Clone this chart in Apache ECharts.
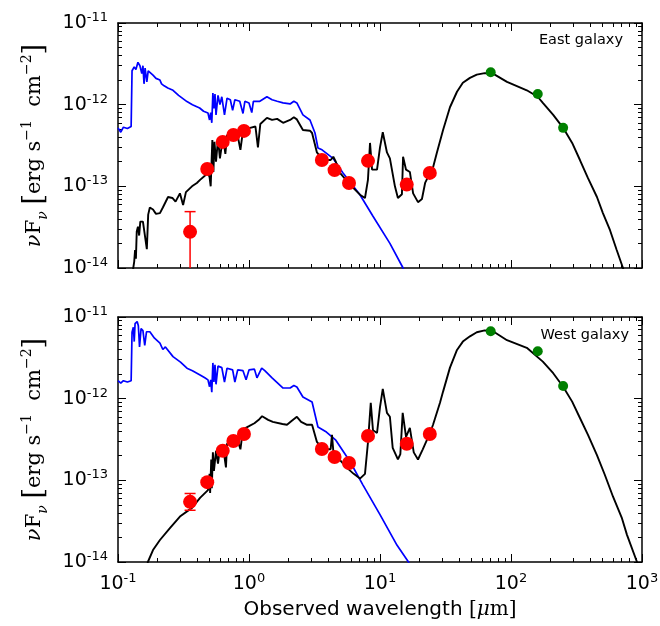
<!DOCTYPE html>
<html>
<head>
    <meta charset="utf-8">
    <script src="https://cdn.jsdelivr.net/npm/echarts@6/dist/echarts.min.js"></script>
</head>
<body style="margin:0">
    <div id="main" style="width:660px;height:626px;"></div>
    <script type="text/javascript">
        // photometry (observed wavelength in micron, nuFnu in erg/s/cm2)
        var redWl = [0.355, 0.48, 0.63, 0.76, 0.915, 3.6, 4.5, 5.8, 8.1, 16, 24];
        var greenWl = [70, 160, 250];

        var eastRedF = [2.77e-14, 1.63e-13, 3.5e-13, 4.25e-13, 4.77e-13, 2.1e-13, 1.58e-13, 1.1e-13, 2.05e-13, 1.05e-13, 1.46e-13];
        var eastGreenF = [2.5e-12, 1.35e-12, 5.2e-13];
        var eastErrWl = [0.355];
        var eastErrLo = [6.5e-15];
        var eastErrHi = [4.9e-14];

        var westRedF = [5.45e-14, 9.5e-14, 2.3e-13, 3.03e-13, 3.7e-13, 2.42e-13, 1.93e-13, 1.63e-13, 3.5e-13, 2.8e-13, 3.7e-13];
        var westGreenF = [6.7e-12, 3.8e-12, 1.43e-12];
        var westErrWl = [0.355];
        var westErrLo = [4.3e-14];
        var westErrHi = [6.9e-14];

        // unattenuated stellar model (blue)
        var eastBlueWl = [0.100, 0.105, 0.110, 0.118, 0.126, 0.128, 0.133, 0.137, 0.142, 0.147, 0.152, 0.155, 0.158, 0.161, 0.166, 0.170,
            0.175, 0.185, 0.195, 0.209, 0.215, 0.225, 0.24, 0.263, 0.29, 0.336, 0.37, 0.42, 0.45, 0.486, 0.50, 0.51, 0.52, 0.53,
            0.54, 0.55, 0.56, 0.58, 0.60, 0.62, 0.65, 0.68, 0.72, 0.75, 0.78, 0.85, 0.90, 0.93, 1.0, 1.05, 1.08, 1.21, 1.37, 1.5,
            1.64, 1.82, 2.06, 2.2, 2.32, 2.58, 2.92, 3.19, 3.36, 3.61, 4.38, 5.22, 7.03, 8.84, 11.9, 15.0, 16.0];
        var eastBlueF = [5.2e-13, 4.6e-13, 5.3e-13, 5.1e-13, 5.4e-13, 2.6e-12, 2.9e-12, 2.7e-12, 3.3e-12, 3.0e-12, 2.4e-12, 3.0e-12, 1.8e-12, 2.8e-12, 1.9e-12, 2.6e-12,
            2.7e-12, 2.3e-12, 2.1e-12, 2.0e-12, 1.8e-12, 1.7e-12, 1.6e-12, 1.5e-12, 1.3e-12, 1.09e-12, 1.0e-12, 9.1e-13, 8.3e-13, 7.9e-13, 6.5e-13, 8.0e-13, 6.0e-13, 1.39e-12,
            9.0e-13, 1.35e-12, 7.5e-13, 1.3e-12, 1.0e-12, 1.25e-12, 7.5e-13, 1.2e-12, 1.15e-12, 8.5e-13, 1.15e-12, 1.1e-12, 7.8e-13, 1.1e-12, 1.05e-12, 8.0e-13, 1.1e-12, 1.1e-12, 1.25e-12, 1.15e-12,
            1.1e-12, 1.05e-12, 1.02e-12, 1.1e-12, 1.05e-12, 7.5e-13, 6.5e-13, 4.5e-13, 2.95e-13, 2.8e-13, 2.2e-13, 1.46e-13, 7.9e-14, 4.3e-14, 2.0e-14, 1.0e-14, 8e-15];

        var westBlueWl = [0.100, 0.105, 0.110, 0.118, 0.126, 0.128, 0.131, 0.133, 0.135, 0.140, 0.143, 0.146, 0.150, 0.155, 0.160, 0.165,
            0.175, 0.19, 0.209, 0.22, 0.23, 0.263, 0.30, 0.336, 0.37, 0.423, 0.46, 0.486, 0.50, 0.51, 0.52, 0.53, 0.54, 0.55, 0.56,
            0.58, 0.62, 0.65, 0.68, 0.75, 0.78, 0.82, 0.90, 0.95, 1.0, 1.1, 1.15, 1.25, 1.32, 1.5, 1.82, 2.06, 2.2, 2.32, 2.58,
            3.03, 3.36, 3.9, 4.6, 5.9, 7.4, 10.0, 13.5, 16.5, 17.5];
        var westBlueF = [1.66e-12, 1.55e-12, 1.66e-12, 1.6e-12, 1.66e-12, 6.5e-12, 7.5e-12, 5.0e-12, 8.3e-12, 8.8e-12, 7.8e-12, 4.3e-12, 7.2e-12, 6.8e-12, 4.5e-12, 6.6e-12,
            6.6e-12, 5.5e-12, 4.8e-12, 4.0e-12, 4.3e-12, 3.27e-12, 2.8e-12, 2.36e-12, 2.2e-12, 1.95e-12, 1.8e-12, 1.7e-12, 1.4e-12, 1.7e-12, 1.2e-12, 2.74e-12, 1.6e-12, 2.6e-12, 1.5e-12,
            2.5e-12, 2.4e-12, 1.6e-12, 2.36e-12, 2.25e-12, 1.6e-12, 2.25e-12, 2.2e-12, 1.7e-12, 2.25e-12, 2.3e-12, 1.8e-12, 2.36e-12, 2.2e-12, 1.8e-12, 1.35e-12, 1.35e-12, 1.45e-12, 1.39e-12, 1.05e-12,
            9.1e-13, 4.5e-13, 3.9e-13, 3.1e-13, 1.7e-13, 8.8e-14, 3.8e-14, 1.6e-14, 1.0e-14, 8e-15];

        // best-fit attenuated model with dust emission (black)
        var eastBlackWl = [0.128, 0.133, 0.135, 0.137, 0.139, 0.142, 0.145, 0.148, 0.155, 0.160, 0.166, 0.170, 0.175, 0.185, 0.195, 0.209,
            0.22, 0.241, 0.26, 0.275, 0.297, 0.314, 0.33, 0.367, 0.40, 0.423, 0.46, 0.486, 0.50, 0.51, 0.525, 0.535, 0.545, 0.56,
            0.58, 0.60, 0.633, 0.66, 0.68, 0.72, 0.81, 0.86, 0.90, 1.02, 1.12, 1.17, 1.22, 1.37, 1.5, 1.64, 1.82, 2.06, 2.2,
            2.32, 2.58, 2.92, 3.03, 3.30, 3.67, 4.2, 4.4, 4.6, 4.95, 5.9, 7.03, 7.68, 8.09, 8.39, 8.7, 9.49, 10.0, 10.5, 11.3,
            11.9, 13.0, 13.7, 14.7, 15.0, 15.8, 16.9, 17.9, 19.5, 20.9, 22.1, 24.1, 25.4, 27.2, 30.3, 34.2, 38.7, 42.9, 48.6,
            54.8, 63, 72.9, 93.2, 132, 160, 175, 210, 250, 293, 336, 387, 453, 503, 570, 641, 716, 750];
        var eastBlackF = [8e-15, 1.2e-14, 1.66e-14, 1.3e-14, 2.8e-14, 3.2e-14, 2.5e-14, 3.7e-14, 3.7e-14, 3.6e-14, 1.7e-14, 4.5e-14, 5.5e-14, 5.2e-14, 4.6e-14, 4.7e-14,
            5.5e-14, 7.4e-14, 7.2e-14, 6.5e-14, 8.2e-14, 5.9e-14, 8.5e-14, 1.0e-13, 1.1e-13, 1.2e-13, 1.35e-13, 1.46e-13, 1.3e-13, 1.0e-13, 3.7e-13, 1.5e-13, 3.5e-13, 2.0e-13,
            3.8e-13, 2.2e-13, 4.0e-13, 2.5e-13, 4.2e-13, 4.4e-13, 4.6e-13, 2.8e-13, 4.8e-13, 5.2e-13, 5.4e-13, 3.0e-13, 5.8e-13, 6.9e-13, 6.5e-13, 6.7e-13, 6.0e-13, 6.5e-13, 7.0e-13,
            6.6e-13, 4.9e-13, 4.8e-13, 4.5e-13, 2.6e-13, 2.1e-13, 2.1e-13, 2.3e-13, 2.0e-13, 1.46e-13, 1.05e-13, 7.9e-14, 7.2e-14, 1.2e-13, 3.4e-13, 1.6e-13, 1.6e-13, 3.0e-13, 4.6e-13, 2.6e-13,
            2.2e-13, 1.0e-13, 7.2e-14, 8e-14, 2.3e-13, 1.6e-13, 1.5e-13, 8.2e-14, 6.4e-14, 7e-14, 1.1e-13, 1.46e-13, 1.7e-13, 2.6e-13, 4.9e-13, 9.3e-13, 1.44e-12, 1.85e-12, 2.13e-12,
            2.33e-12, 2.43e-12, 2.4e-12, 1.9e-12, 1.5e-12, 1.25e-12, 1.05e-12, 7.5e-13, 5.2e-13, 3.4e-13, 2.1e-13, 1.26e-13, 7.4e-14, 4.7e-14, 2.9e-14, 1.66e-14, 1.0e-14, 8e-15];

        var westBlackWl = [0.165, 0.169, 0.185, 0.209, 0.249, 0.297, 0.367, 0.423, 0.486, 0.50, 0.505, 0.515, 0.52, 0.53, 0.54, 0.56,
            0.58, 0.60, 0.633, 0.667, 0.68, 0.75, 0.80, 0.86, 0.90, 1.0, 1.1, 1.2, 1.26, 1.4, 1.52, 1.8, 1.95, 2.1, 2.32, 2.5,
            2.75, 3.03, 3.30, 3.67, 4.2, 4.3, 4.4, 4.7, 5.6, 6.3, 7.03, 7.68, 8.09, 8.5, 8.84, 9.49, 10.0, 10.5, 11.3, 11.9,
            12.5, 13.7, 14.3, 14.9, 15.8, 16.9, 18.1, 19.5, 21.2, 24.1, 25.4, 28.7, 30.3, 34.2, 38.7, 42.9, 48.6, 54.8, 63,
            72.9, 93.2, 132, 175, 210, 250, 293, 336, 387, 453, 520, 601, 700, 768, 916, 950];
        var westBlackF = [8e-15, 1.0e-14, 1.4e-14, 1.86e-14, 2.6e-14, 3.6e-14, 4.6e-14, 6.1e-14, 7.6e-14, 1.2e-13, 7e-14, 1.8e-13, 8e-14, 2.2e-13, 1.3e-13, 2.3e-13,
            1.6e-13, 2.5e-13, 2.6e-13, 1.44e-13, 2.8e-13, 3.3e-13, 3.5e-13, 2.4e-13, 4.2e-13, 4.6e-13, 5.0e-13, 5.6e-13, 6.1e-13, 5.5e-13, 5.2e-13, 4.9e-13, 4.8e-13, 5.3e-13, 6.0e-13, 5.2e-13,
            4.8e-13, 4.8e-13, 2.95e-13, 2.4e-13, 2.4e-13, 3.6e-13, 2.3e-13, 1.94e-13, 1.42e-13, 1.2e-13, 1.05e-13, 1.2e-13, 2.9e-13, 8.9e-13, 4.1e-13, 3.8e-13, 7.9e-13, 1.32e-12, 6.7e-13, 6.0e-13,
            2.5e-13, 1.8e-13, 2.1e-13, 6.7e-13, 3.4e-13, 4.4e-13, 2.2e-13, 1.8e-13, 2.4e-13, 3.8e-13, 4.8e-13, 8.9e-13, 1.22e-12, 2.4e-12, 3.95e-12, 5.0e-12, 5.8e-12, 6.5e-12, 6.85e-12,
            6.7e-12, 5.2e-12, 4.2e-12, 2.84e-12, 2.05e-12, 1.4e-12, 9.2e-13, 5.8e-13, 3.6e-13, 2.04e-13, 1.17e-13, 6.3e-14, 3.5e-14, 2.15e-14, 1.0e-14, 8e-15];

        // axis ticks
        var xMajor = [0.1, 1, 10, 100, 1000];
        var yMajor = [1e-14, 1e-13, 1e-12, 1e-11];
        var xMinor = [];
        [0.1, 1, 10, 100].forEach(function (d) {
            for (var k = 2; k <= 9; k++) xMinor.push(d * k);
        });
        var yMinor = [];
        [1e-14, 1e-13, 1e-12].forEach(function (d) {
            for (var k = 2; k <= 9; k++) yMinor.push(d * k);
        });

        function pairs(xs, ys) {
            return xs.map(function (x, i) { return [x, ys[i]]; });
        }
        function triples(xs, lo, hi) {
            return xs.map(function (x, i) { return [x, lo[i], hi[i]]; });
        }

        function powLabel(v) {
            var e = Math.round(Math.log(v) / Math.LN10);
            return '{b|10}{s|' + e + '}';
        }
        var labelRich = {
            b: { fontFamily: 'DejaVu Sans', fontSize: 19, color: '#000', lineHeight: 24 },
            s: { fontFamily: 'DejaVu Sans', fontSize: 13, color: '#000', verticalAlign: 'top', lineHeight: 14 }
        };

        var xAxes = [], yAxes = [];
        function addAxes(gi, showX) {
            var base = { gridIndex: gi, type: 'log', logBase: 10, splitLine: { show: false }, minorTick: { show: false } };
            [['bottom', true], ['top', false]].forEach(function (p) {
                xAxes.push(echarts.util.merge({
                    position: p[0], min: 0.1, max: 1000,
                    axisLine: { show: true, onZero: false, lineStyle: { color: '#000', width: 1.5 } },
                    axisTick: { inside: true, length: 8, customValues: xMajor, lineStyle: { color: '#000', width: 1 } },
                    axisLabel: { show: p[1] && showX, customValues: xMajor, formatter: powLabel, rich: labelRich, margin: 10 }
                }, base, true));
                xAxes.push(echarts.util.merge({
                    position: p[0], min: 0.1, max: 1000,
                    axisLine: { show: false },
                    axisTick: { inside: true, length: 4, customValues: xMinor, lineStyle: { color: '#000', width: 1 } },
                    axisLabel: { show: false }
                }, base, true));
            });
            [['left', true], ['right', false]].forEach(function (p) {
                yAxes.push(echarts.util.merge({
                    position: p[0], min: 1e-14, max: 1e-11,
                    axisLine: { show: true, onZero: false, lineStyle: { color: '#000', width: 1.5 } },
                    axisTick: { inside: true, length: 8, customValues: yMajor, lineStyle: { color: '#000', width: 1 } },
                    axisLabel: { show: p[1], customValues: yMajor, formatter: powLabel, rich: labelRich, margin: 10 }
                }, base, true));
                yAxes.push(echarts.util.merge({
                    position: p[0], min: 1e-14, max: 1e-11,
                    axisLine: { show: false },
                    axisTick: { inside: true, length: 4, customValues: yMinor, lineStyle: { color: '#000', width: 1 } },
                    axisLabel: { show: false }
                }, base, true));
            });
        }
        addAxes(0, false);
        addAxes(1, true);

        var yName = '{i|ν}{r|F}{sub|ν}{r| }{br|[}{r|erg s}{sup|−1}{r|  cm}{sup|−2}{br|]}';
        var yNameStyle = {
            rich: {
                i: { fontFamily: 'DejaVu Serif', fontStyle: 'italic', fontSize: 21, color: '#000', lineHeight: 30 },
                r: { fontFamily: 'DejaVu Serif', fontSize: 21, color: '#000', lineHeight: 30 },
                sub: { fontFamily: 'DejaVu Serif', fontStyle: 'italic', fontSize: 14, color: '#000', verticalAlign: 'bottom', lineHeight: 14 },
                sup: { fontFamily: 'DejaVu Serif', fontSize: 14, color: '#000', verticalAlign: 'top', lineHeight: 14 },
                br: { fontFamily: 'DejaVu Serif', fontSize: 27, color: '#000', lineHeight: 30 }
            }
        };
        [0, 4].forEach(function (k) {
            yAxes[k].name = yName;
            yAxes[k].nameLocation = 'middle';
            yAxes[k].nameRotate = 90;
            yAxes[k].nameGap = 68;
            yAxes[k].nameTextStyle = yNameStyle;
        });
        xAxes[4].name = '{t|Observed wavelength }{s|[}{i|μ}{s|m]}';
        xAxes[4].nameLocation = 'middle';
        xAxes[4].nameGap = 38;
        xAxes[4].nameTextStyle = {
            rich: {
                t: { fontFamily: 'DejaVu Sans', fontSize: 20, color: '#000' },
                s: { fontFamily: 'DejaVu Serif', fontSize: 20, color: '#000' },
                i: { fontFamily: 'DejaVu Serif', fontStyle: 'italic', fontSize: 20, color: '#000' }
            }
        };

        function errorBars(params, api) {
            var x = api.value(0);
            var lo = api.coord([x, api.value(1)]);
            var hi = api.coord([x, api.value(2)]);
            var s = { stroke: '#ff0000', lineWidth: 1.5 };
            return {
                type: 'group', children: [
                    { type: 'line', shape: { x1: hi[0], y1: hi[1], x2: lo[0], y2: lo[1] }, style: s },
                    { type: 'line', shape: { x1: hi[0] - 5.5, y1: hi[1], x2: hi[0] + 5.5, y2: hi[1] }, style: s },
                    { type: 'line', shape: { x1: lo[0] - 5.5, y1: lo[1], x2: lo[0] + 5.5, y2: lo[1] }, style: s }
                ]
            };
        }

        function panelSeries(gi, blue, black, err, red, green) {
            var ax = { xAxisIndex: gi * 4, yAxisIndex: gi * 4 };
            return [
                Object.assign({ type: 'line', data: blue, showSymbol: false, clip: true, z: 2,
                    lineStyle: { color: '#0000ff', width: 1.7 } }, ax),
                Object.assign({ type: 'line', data: black, showSymbol: false, clip: true, z: 3,
                    lineStyle: { color: '#000000', width: 1.9 } }, ax),
                Object.assign({ type: 'custom', data: err, renderItem: errorBars, clip: true, z: 4,
                    encode: { x: 0, y: [1, 2] } }, ax),
                Object.assign({ type: 'scatter', data: red, symbolSize: 14, z: 5,
                    itemStyle: { color: '#ff0000', opacity: 1 } }, ax),
                Object.assign({ type: 'scatter', data: green, symbolSize: 10, z: 5,
                    itemStyle: { color: '#008000', opacity: 1 } }, ax)
            ];
        }

        var myChart = echarts.init(document.getElementById('main'));
        var option = {
            animation: false,
            backgroundColor: '#fff',
            title: [
                { text: 'East galaxy', right: 37, top: 33, padding: 0,
                    textStyle: { fontFamily: 'DejaVu Sans', fontSize: 14.5, fontWeight: 'normal', color: '#000' } },
                { text: 'West galaxy', right: 31, top: 328, padding: 0,
                    textStyle: { fontFamily: 'DejaVu Sans', fontSize: 14.5, fontWeight: 'normal', color: '#000' } }
            ],
            grid: [
                { left: 118, top: 23, width: 524, height: 245, outerBoundsMode: 'none' },
                { left: 118, top: 317, width: 524, height: 245, outerBoundsMode: 'none' }
            ],
            xAxis: xAxes,
            yAxis: yAxes,
            series: [].concat(
                panelSeries(0, pairs(eastBlueWl, eastBlueF), pairs(eastBlackWl, eastBlackF),
                    triples(eastErrWl, eastErrLo, eastErrHi), pairs(redWl, eastRedF), pairs(greenWl, eastGreenF)),
                panelSeries(1, pairs(westBlueWl, westBlueF), pairs(westBlackWl, westBlackF),
                    triples(westErrWl, westErrLo, westErrHi), pairs(redWl, westRedF), pairs(greenWl, westGreenF))
            )
        };
        myChart.setOption(option);
    </script>
</body>
</html>
